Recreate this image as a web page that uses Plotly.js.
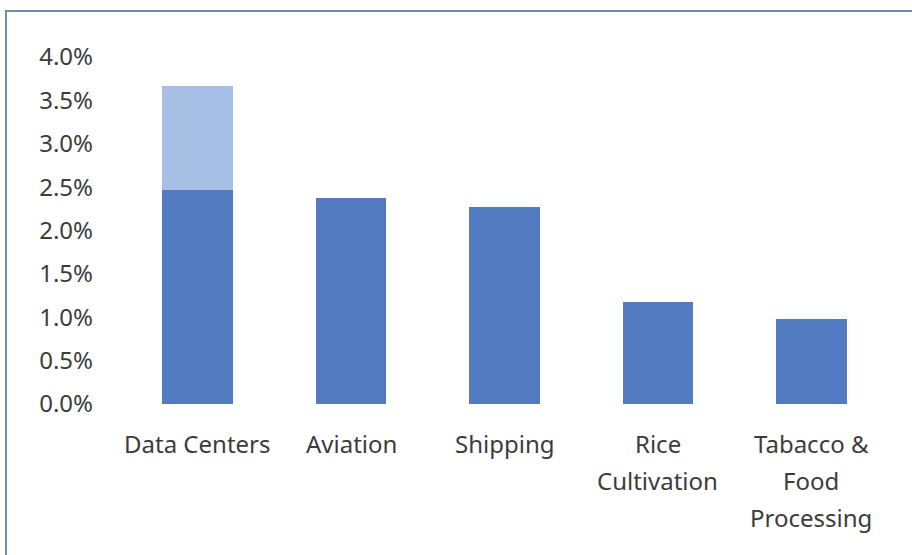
<!DOCTYPE html>
<html>
<head>
<meta charset="utf-8">
<script src="https://cdn.plot.ly/plotly-3.0.1.min.js"></script>
<style>
html,body{margin:0;padding:0;background:#fff;}
#wrap{position:relative;width:912px;height:555px;}
#chart{width:912px;height:555px;}
#frame{position:absolute;left:5px;top:10px;width:930px;height:600px;border-left:2px solid #6f8db0;border-top:2px solid #6f8db0;pointer-events:none;}
</style>
</head>
<body>
<div id="wrap"><div id="chart"></div><div id="frame"></div></div>
<script>
const categories = ["Data Centers", "Aviation", "Shipping", "Rice Cultivation", "Tabacco & Food Processing"];
const labelLines = [["Data Centers"], ["Aviation"], ["Shipping"], ["Rice", "Cultivation"], ["Tabacco &", "Food", "Processing"]];
const baseValues = [0.0247, 0.0238, 0.0227, 0.0118, 0.0098];
const extraValues = [0.0120, 0, 0, 0, 0];
const yTicks = [0, 0.005, 0.01, 0.015, 0.02, 0.025, 0.03, 0.035, 0.04];

const font = {family: "Noto Sans, Open Sans, sans-serif", size: 24, color: "#3c3c3c"};

const annotations = [];
labelLines.forEach((lines, i) => {
  lines.forEach((t, j) => {
    annotations.push({
      x: categories[i], y: 0, xref: "x", yref: "y",
      text: t, showarrow: false, yanchor: "middle",
      yshift: -39 - 37 * j, font: font
    });
  });
});

const data = [
  {type: "bar", x: categories, y: baseValues, marker: {color: "#527bc2"}, hoverinfo: "skip"},
  {type: "bar", x: categories, y: extraValues, marker: {color: "#a8bfe5"}, hoverinfo: "skip"}
];

const layout = {
  width: 912, height: 555,
  margin: {l: 121, r: 24, t: 57, b: 151},
  barmode: "stack",
  bargap: 0.54,
  showlegend: false,
  paper_bgcolor: "#ffffff",
  plot_bgcolor: "#ffffff",
  font: font,
  xaxis: {type: "category", showticklabels: false, showline: false, showgrid: false, zeroline: false, ticks: ""},
  yaxis: {range: [0, 0.04], tickvals: yTicks, tickformat: ".1%", showgrid: false, zeroline: false, showline: false,
          ticks: "", ticklabelstandoff: 27, tickfont: font},
  annotations: annotations
};

Plotly.newPlot("chart", data, layout, {staticPlot: true});
</script>
</body>
</html>
